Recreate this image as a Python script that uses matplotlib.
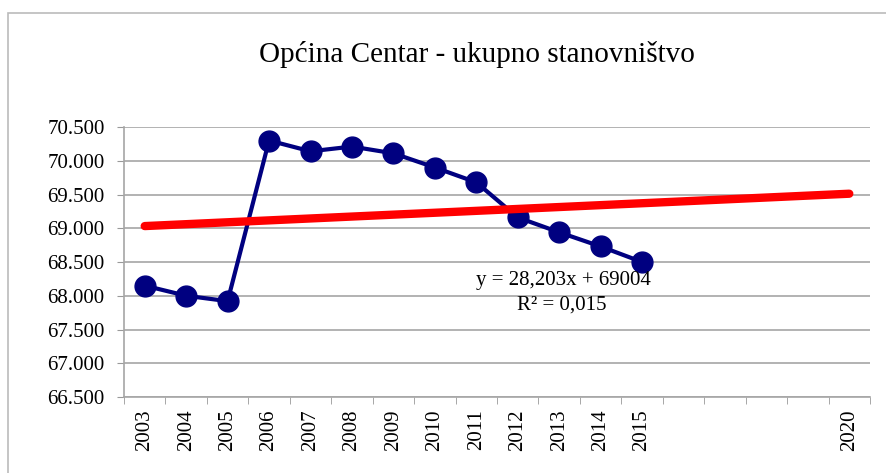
import numpy as np
import matplotlib.pyplot as plt
from matplotlib.patches import Rectangle

# data
years = ['2003', '2004', '2005', '2006', '2007', '2008', '2009', '2010',
         '2011', '2012', '2013', '2014', '2015', '', '', '', '', '2020']
population = [68150, 68000, 67920, 70300, 70140, 70210, 70110, 69900,
              69680, 69160, 68940, 68730, 68500]
trend_slope = 28.203
trend_intercept = 69004
trend_r2 = 0.015

plt.rcParams['font.family'] = ['Liberation Serif', 'DejaVu Serif']

fig = plt.figure(figsize=(8.86, 4.73), dpi=100)
ax = fig.add_axes([124 / 886, 1 - 397 / 473, 746 / 886, 270 / 473])

# chart frame (only left/top visible in the reference)
fig.patches.append(Rectangle((8 / 886, -0.1), 1.2, 1 - 13 / 473 + 0.1,
                             transform=fig.transFigure, fill=False,
                             edgecolor='#BBBBBB', linewidth=1.2))

x = np.arange(1, len(population) + 1)
ax.plot(x, population, color='#000080', linewidth=3, marker='o',
        markersize=15, zorder=3)

# linear trend over all categories
xt = np.array([1, len(years)])
ax.plot(xt, trend_slope * xt + trend_intercept, color='#FF0000',
        linewidth=6, solid_capstyle='round', zorder=4)

ax.set_xlim(0.5, len(years) + 0.5)
ax.set_ylim(66500, 70500)
yticks = np.arange(66500, 70501, 500)
ax.set_yticks(yticks)
ax.set_yticklabels([f'{v:,.0f}'.replace(',', '.') for v in yticks], fontsize=15)
ax.set_xticks(np.arange(1, len(years) + 1))
ax.set_xticklabels(years, rotation=90, fontsize=15)
ax.set_xticks(np.arange(0.5, len(years) + 1, 1), minor=True)
ax.tick_params(axis='x', which='major', length=0, pad=9)
ax.tick_params(axis='x', which='minor', length=5, color='#999999')
ax.tick_params(axis='y', length=5, color='#999999', pad=9)

ax.grid(axis='y', color='#A6A6A6', linewidth=1.2)
ax.set_axisbelow(True)
for side in ['top', 'right']:
    ax.spines[side].set_visible(False)
for side in ['left', 'bottom']:
    ax.spines[side].set_color('#A6A6A6')
    ax.spines[side].set_linewidth(1.2)

fig.text(477 / 886, 1 - 55 / 473, 'Općina Centar - ukupno stanovništvo',
         ha='center', va='center', fontsize=21)

fig.text(563 / 886, 1 - 281 / 473,
         f'y = {trend_slope:.3f}x + {trend_intercept}'.replace('.', ','),
         ha='center', va='center', fontsize=15)
fig.text(562 / 886, 1 - 305 / 473, f'R² = {trend_r2:.3f}'.replace('.', ','),
         ha='center', va='center', fontsize=15)

fig.savefig('out.png', dpi=100)
